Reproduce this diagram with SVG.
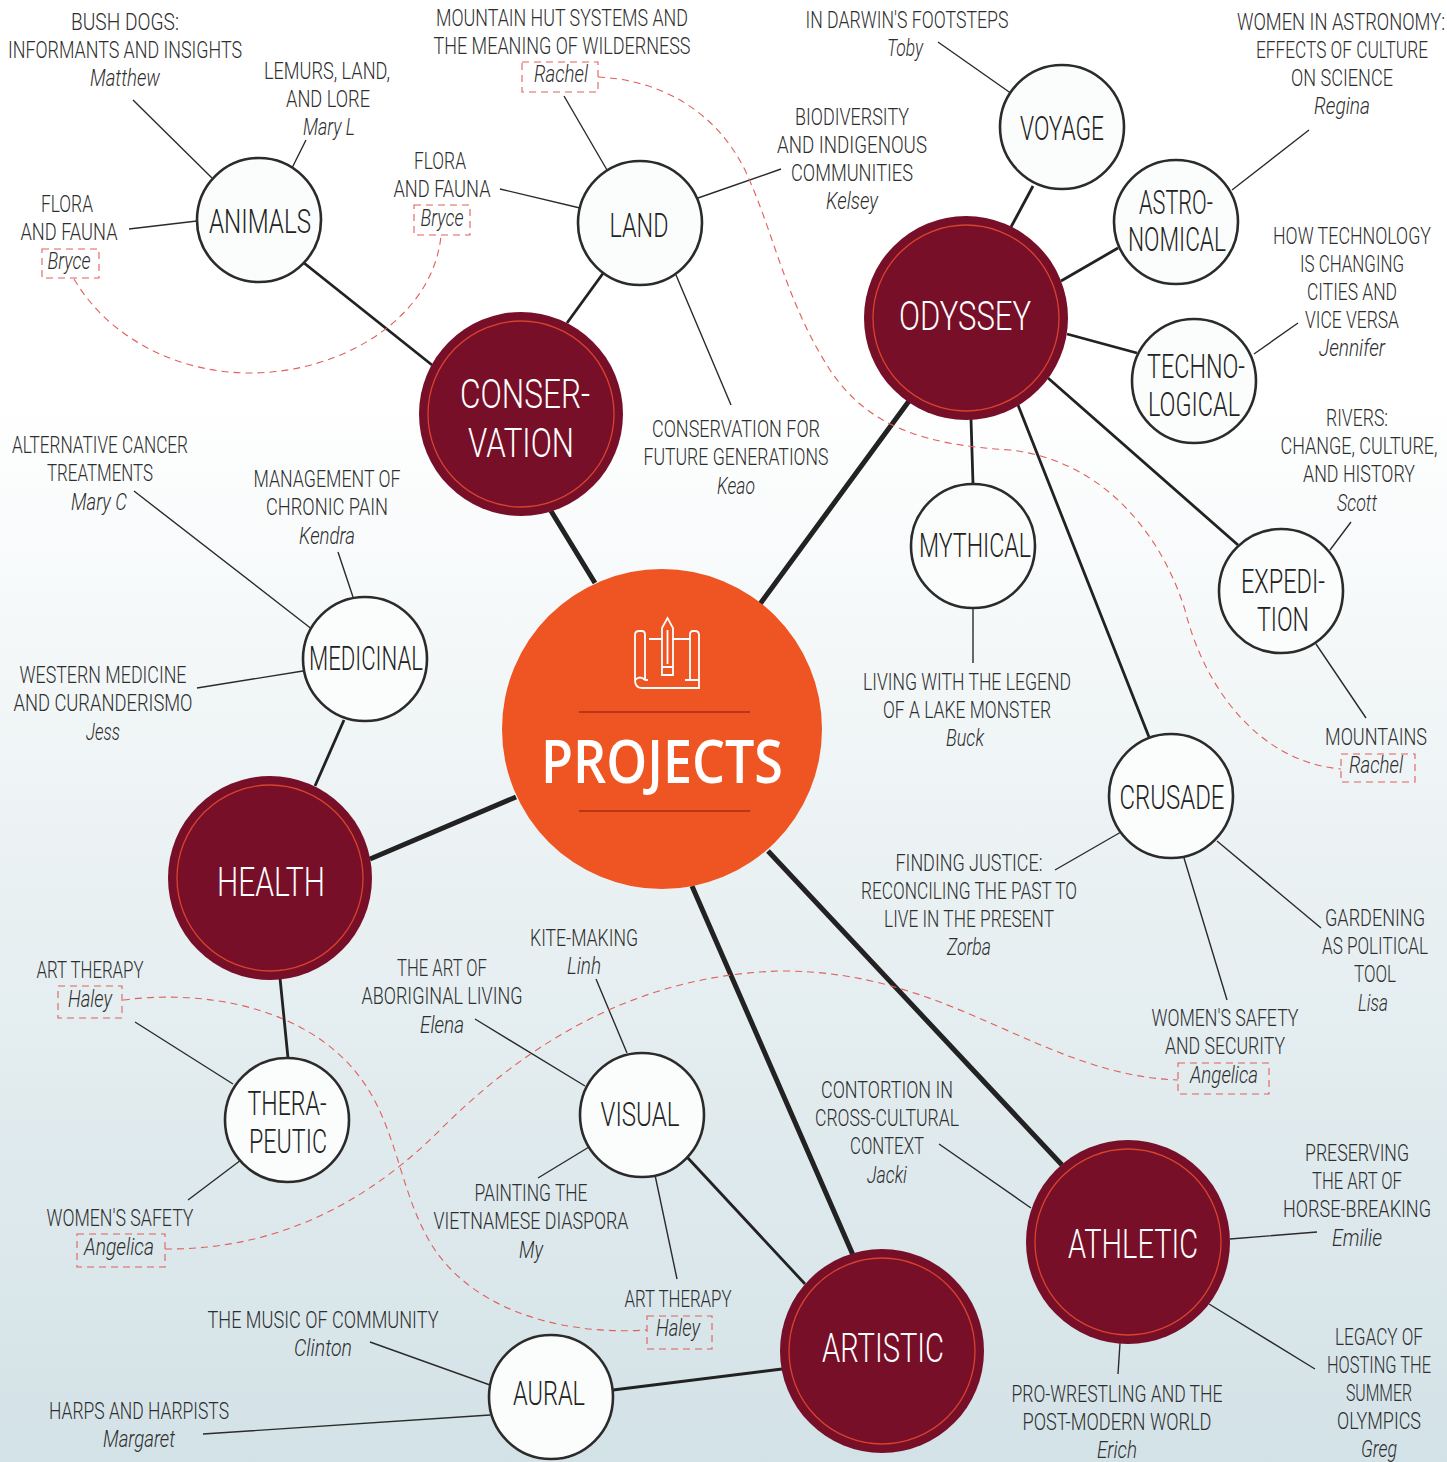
<svg xmlns="http://www.w3.org/2000/svg" width="1447" height="1462" viewBox="0 0 1447 1462">
<style>
text{font-family:"Roboto","Liberation Sans",sans-serif;text-anchor:middle;}
.l{font-size:23px;font-weight:300;fill:#2e2e2e;}
.n{font-size:23px;font-weight:300;font-style:italic;fill:#2e2e2e;}
.w{font-size:33px;font-weight:300;fill:#222;}
.m{font-size:41px;font-weight:300;fill:#fff;}
.wc{fill:#fbfcfc;stroke:#2b2b2b;stroke-width:2.6;}
.mc{fill:#780f28;}
.mr{fill:none;stroke:#d8432c;stroke-width:1.3;}
.c1{stroke:#2b2b2b;stroke-width:1.4;fill:none;}
.c2{stroke:#222;stroke-width:2.8;fill:none;}
.c3{stroke:#222;stroke-width:5;fill:none;}
.d{stroke:#e0605a;stroke-width:1.1;stroke-dasharray:7 5;fill:none;}
.i{stroke:#fff;stroke-width:1.8;fill:none;}
</style>
<defs><linearGradient id="bg" x1="0" y1="0" x2="0" y2="1"><stop offset="0" stop-color="#fff"/><stop offset="0.27" stop-color="#fff"/><stop offset="0.6" stop-color="#eaf1f3"/><stop offset="1" stop-color="#d3e2e7"/></linearGradient></defs>
<rect width="1447" height="1462" fill="url(#bg)"/>
<g id="connectors">
<path class="c3" d="M551,511L595,583M909,401L760,604M516,797L370,859M692,886L853,1255M768,851L1062,1165"/>
<path class="c2" d="M304,263L432,365M604,272L567,323M1033,186L1011,227M1118,248L1061,281M1067,334L1137,353M1048,378L1238,545M971,419L973,484M1018,405L1149,737M344,720L315,786M280,978L288,1058M687,1157L805,1284M613,1390L782,1369"/>
<path class="c1" d="M133,100L212,178M306,140L292,168M129,229L197,221M564,96L607,170M500,189L580,208M781,169L698,198M676,275L731,405M938,42L1012,94M1309,130L1232,190M1298,323L1254,354M1351,522L1330,550M1316,644L1366,718M973,608L973,663M1121,832L1055,870M1217,841L1321,928M1184,858L1227,1000M134,491L313,630M338,552L353,597M197,688L303,671M135,1022L233,1084M241,1160L188,1200M475,1019L585,1086M596,979L627,1053M589,1147L538,1178M655,1175L677,1279M939,1144L1031,1208M1230,1239L1317,1232M1209,1304L1315,1369M1120,1343L1118,1374M370,1342L490,1385M203,1434L490,1415"/>
<path class="d" d="M74,279C110,340 180,373 250,373C340,373 432,320 441,236"/>
<path class="d" d="M598,77C660,80 715,110 745,170C775,235 785,300 830,370C870,430 930,445 1010,450C1100,460 1160,530 1185,610C1205,690 1260,762 1341,769"/>
<path class="d" d="M123,1000C200,990 290,1005 345,1060C400,1115 395,1190 435,1250C480,1315 570,1335 647,1330"/>
<path class="d" d="M165,1249C280,1250 370,1200 440,1130C530,1040 640,975 780,971C950,970 1040,1075 1178,1080"/>
</g>
<g id="tags">
<rect class="d" x="522" y="62" width="76" height="30"/><rect class="d" x="414" y="205" width="56" height="30"/><rect class="d" x="42" y="249" width="57" height="29"/><rect class="d" x="1341" y="754" width="74" height="28"/><rect class="d" x="1178" y="1063" width="91" height="31"/><rect class="d" x="58" y="986" width="64" height="32"/><rect class="d" x="77" y="1234" width="88" height="33"/><rect class="d" x="647" y="1316" width="65" height="33"/>
</g>
<g id="projects">
<circle cx="662" cy="729" r="160" fill="#ef5423"/>
<path class="i" d="M635,680V635Q635,631 639,631H642Q645,631 645,635V680M635,680Q635,688 642,688H699V635Q699,631 695,631H693Q690,631 690,635V680H699M635,680Q640,675 645,680M649,639H662M673,639H690M645,680H648M685,680H690M662,675V628L667.500,618L673,628V675ZM662,667H673M667.500,630V664"/>
<path d="M579,712H750M579,811H750" stroke="#a92b17" stroke-width="1.5"/>
<text x="662" y="783" font-size="59" font-weight="600" fill="#fff" textLength="242" lengthAdjust="spacingAndGlyphs" style="font-family:'Open Sans','Liberation Sans',sans-serif">PROJECTS</text>
</g>
<g id="conservation"><circle class="mc" cx="521" cy="414" r="102"/><circle class="mr" cx="521" cy="414" r="93"/><text class="m" x="525" y="408" textLength="130" lengthAdjust="spacingAndGlyphs">CONSER-</text><text class="m" x="521" y="457" textLength="106" lengthAdjust="spacingAndGlyphs">VATION</text></g>
<g id="odyssey"><circle class="mc" cx="966" cy="318" r="102"/><circle class="mr" cx="966" cy="318" r="93"/><text class="m" x="965" y="330" textLength="132" lengthAdjust="spacingAndGlyphs">ODYSSEY</text></g>
<g id="health"><circle class="mc" cx="270" cy="878" r="102"/><circle class="mr" cx="270" cy="878" r="93"/><text class="m" x="271" y="896" textLength="108" lengthAdjust="spacingAndGlyphs">HEALTH</text></g>
<g id="artistic"><circle class="mc" cx="882" cy="1351" r="102"/><circle class="mr" cx="882" cy="1351" r="93"/><text class="m" x="883" y="1362" textLength="122" lengthAdjust="spacingAndGlyphs">ARTISTIC</text></g>
<g id="athletic"><circle class="mc" cx="1128" cy="1242" r="102"/><circle class="mr" cx="1128" cy="1242" r="93"/><text class="m" x="1133" y="1258" textLength="130" lengthAdjust="spacingAndGlyphs">ATHLETIC</text></g>
<g id="animals"><circle class="wc" cx="259" cy="220" r="62"/><text class="w" x="260" y="233" textLength="102" lengthAdjust="spacingAndGlyphs">ANIMALS</text></g>
<g id="land"><circle class="wc" cx="640" cy="223" r="62"/><text class="w" x="639" y="237" textLength="59" lengthAdjust="spacingAndGlyphs">LAND</text></g>
<g id="voyage"><circle class="wc" cx="1062" cy="127" r="62"/><text class="w" x="1062" y="140" textLength="84" lengthAdjust="spacingAndGlyphs">VOYAGE</text></g>
<g id="astronomical"><circle class="wc" cx="1176" cy="222" r="62"/><text class="w" x="1176" y="214" textLength="74" lengthAdjust="spacingAndGlyphs">ASTRO-</text><text class="w" x="1177" y="251" textLength="98" lengthAdjust="spacingAndGlyphs">NOMICAL</text></g>
<g id="technological"><circle class="wc" cx="1194" cy="381" r="62"/><text class="w" x="1196" y="378" textLength="98" lengthAdjust="spacingAndGlyphs">TECHNO-</text><text class="w" x="1194" y="416" textLength="92" lengthAdjust="spacingAndGlyphs">LOGICAL</text></g>
<g id="mythical"><circle class="wc" cx="973" cy="546" r="62"/><text class="w" x="975" y="557" textLength="112" lengthAdjust="spacingAndGlyphs">MYTHICAL</text></g>
<g id="expedition"><circle class="wc" cx="1281" cy="591" r="62"/><text class="w" x="1283" y="593" textLength="84" lengthAdjust="spacingAndGlyphs">EXPEDI-</text><text class="w" x="1283" y="631" textLength="52" lengthAdjust="spacingAndGlyphs">TION</text></g>
<g id="crusade"><circle class="wc" cx="1171" cy="796" r="62"/><text class="w" x="1172" y="809" textLength="105" lengthAdjust="spacingAndGlyphs">CRUSADE</text></g>
<g id="medicinal"><circle class="wc" cx="365" cy="659" r="62"/><text class="w" x="366" y="670" textLength="114" lengthAdjust="spacingAndGlyphs">MEDICINAL</text></g>
<g id="therapeutic"><circle class="wc" cx="287" cy="1120" r="62"/><text class="w" x="287" y="1115" textLength="79" lengthAdjust="spacingAndGlyphs">THERA-</text><text class="w" x="288" y="1153" textLength="78" lengthAdjust="spacingAndGlyphs">PEUTIC</text></g>
<g id="visual"><circle class="wc" cx="642" cy="1115" r="62"/><text class="w" x="640" y="1126" textLength="79" lengthAdjust="spacingAndGlyphs">VISUAL</text></g>
<g id="aural"><circle class="wc" cx="551" cy="1397" r="62"/><text class="w" x="549" y="1405" textLength="72" lengthAdjust="spacingAndGlyphs">AURAL</text></g>
<g id="labels" transform="translate(0,0.3)">
<text class="l" x="125" y="30" textLength="108" lengthAdjust="spacingAndGlyphs">BUSH DOGS:</text>
<text class="l" transform="translate(125,58) scale(.8,1)" textLength="292.500" lengthAdjust="spacingAndGlyphs">INFORMANTS AND INSIGHTS</text>
<text class="n" x="125" y="86" textLength="70" lengthAdjust="spacingAndGlyphs">Matthew</text>
<text class="l" x="327" y="79" textLength="126" lengthAdjust="spacingAndGlyphs">LEMURS, LAND,</text>
<text class="l" x="328" y="107" textLength="84" lengthAdjust="spacingAndGlyphs">AND LORE</text>
<text class="n" x="329" y="135" textLength="52" lengthAdjust="spacingAndGlyphs">Mary L</text>
<text class="l" x="562" y="26" textLength="252" lengthAdjust="spacingAndGlyphs">MOUNTAIN HUT SYSTEMS AND</text>
<text class="l" x="562" y="54" textLength="257" lengthAdjust="spacingAndGlyphs">THE MEANING OF WILDERNESS</text>
<text class="n" x="561" y="82" textLength="54" lengthAdjust="spacingAndGlyphs">Rachel</text>
<text class="l" x="907" y="28" textLength="203" lengthAdjust="spacingAndGlyphs">IN DARWIN'S FOOTSTEPS</text>
<text class="n" x="905" y="56" textLength="36" lengthAdjust="spacingAndGlyphs">Toby</text>
<text class="l" transform="translate(1341,30) scale(.8,1)" textLength="260" lengthAdjust="spacingAndGlyphs">WOMEN IN ASTRONOMY:</text>
<text class="l" transform="translate(1342,58) scale(.8,1)" textLength="215" lengthAdjust="spacingAndGlyphs">EFFECTS OF CULTURE</text>
<text class="l" x="1342" y="86" textLength="102" lengthAdjust="spacingAndGlyphs">ON SCIENCE</text>
<text class="n" x="1342" y="114" textLength="56" lengthAdjust="spacingAndGlyphs">Regina</text>
<text class="l" x="852" y="125" textLength="114" lengthAdjust="spacingAndGlyphs">BIODIVERSITY</text>
<text class="l" x="852" y="153" textLength="150" lengthAdjust="spacingAndGlyphs">AND INDIGENOUS</text>
<text class="l" x="852" y="181" textLength="122" lengthAdjust="spacingAndGlyphs">COMMUNITIES</text>
<text class="n" x="852" y="209" textLength="52" lengthAdjust="spacingAndGlyphs">Kelsey</text>
<text class="l" x="440" y="169" textLength="52" lengthAdjust="spacingAndGlyphs">FLORA</text>
<text class="l" x="442" y="197" textLength="97" lengthAdjust="spacingAndGlyphs">AND FAUNA</text>
<text class="n" x="442" y="226" textLength="43" lengthAdjust="spacingAndGlyphs">Bryce</text>
<text class="l" x="67" y="212" textLength="52" lengthAdjust="spacingAndGlyphs">FLORA</text>
<text class="l" x="69" y="240" textLength="97" lengthAdjust="spacingAndGlyphs">AND FAUNA</text>
<text class="n" x="69" y="269" textLength="43" lengthAdjust="spacingAndGlyphs">Bryce</text>
<text class="l" transform="translate(1352,244) scale(.8,1)" textLength="197.500" lengthAdjust="spacingAndGlyphs">HOW TECHNOLOGY</text>
<text class="l" x="1352" y="272" textLength="104" lengthAdjust="spacingAndGlyphs">IS CHANGING</text>
<text class="l" x="1352" y="300" textLength="90" lengthAdjust="spacingAndGlyphs">CITIES AND</text>
<text class="l" x="1352" y="328" textLength="94" lengthAdjust="spacingAndGlyphs">VICE VERSA</text>
<text class="n" x="1352" y="356" textLength="66" lengthAdjust="spacingAndGlyphs">Jennifer</text>
<text class="l" x="1357" y="426" textLength="62" lengthAdjust="spacingAndGlyphs">RIVERS:</text>
<text class="l" transform="translate(1359,454) scale(.8,1)" textLength="196.250" lengthAdjust="spacingAndGlyphs">CHANGE, CULTURE,</text>
<text class="l" transform="translate(1359,482) scale(.8,1)" textLength="140" lengthAdjust="spacingAndGlyphs">AND HISTORY</text>
<text class="n" x="1357" y="511" textLength="40" lengthAdjust="spacingAndGlyphs">Scott</text>
<text class="l" x="736" y="437" textLength="168" lengthAdjust="spacingAndGlyphs">CONSERVATION FOR</text>
<text class="l" x="736" y="465" textLength="185" lengthAdjust="spacingAndGlyphs">FUTURE GENERATIONS</text>
<text class="n" x="736" y="494" textLength="38" lengthAdjust="spacingAndGlyphs">Keao</text>
<text class="l" transform="translate(100,453) scale(.8,1)" textLength="220" lengthAdjust="spacingAndGlyphs">ALTERNATIVE CANCER</text>
<text class="l" x="100" y="481" textLength="106" lengthAdjust="spacingAndGlyphs">TREATMENTS</text>
<text class="n" x="99" y="510" textLength="56" lengthAdjust="spacingAndGlyphs">Mary C</text>
<text class="l" x="327" y="487" textLength="147" lengthAdjust="spacingAndGlyphs">MANAGEMENT OF</text>
<text class="l" x="327" y="515" textLength="122" lengthAdjust="spacingAndGlyphs">CHRONIC PAIN</text>
<text class="n" x="327" y="544" textLength="56" lengthAdjust="spacingAndGlyphs">Kendra</text>
<text class="l" transform="translate(103,683) scale(.8,1)" textLength="208.750" lengthAdjust="spacingAndGlyphs">WESTERN MEDICINE</text>
<text class="l" transform="translate(103,711) scale(.8,1)" textLength="223.750" lengthAdjust="spacingAndGlyphs">AND CURANDERISMO</text>
<text class="n" x="103" y="740" textLength="34" lengthAdjust="spacingAndGlyphs">Jess</text>
<text class="l" x="967" y="690" textLength="208" lengthAdjust="spacingAndGlyphs">LIVING WITH THE LEGEND</text>
<text class="l" x="967" y="718" textLength="168" lengthAdjust="spacingAndGlyphs">OF A LAKE MONSTER</text>
<text class="n" x="965" y="746" textLength="38" lengthAdjust="spacingAndGlyphs">Buck</text>
<text class="l" transform="translate(1376,745) scale(.8,1)" textLength="127.500" lengthAdjust="spacingAndGlyphs">MOUNTAINS</text>
<text class="n" x="1376" y="773" textLength="54" lengthAdjust="spacingAndGlyphs">Rachel</text>
<text class="l" x="969" y="871" textLength="147" lengthAdjust="spacingAndGlyphs">FINDING JUSTICE:</text>
<text class="l" x="969" y="899" textLength="216" lengthAdjust="spacingAndGlyphs">RECONCILING THE PAST TO</text>
<text class="l" x="969" y="927" textLength="170" lengthAdjust="spacingAndGlyphs">LIVE IN THE PRESENT</text>
<text class="n" x="969" y="955" textLength="44" lengthAdjust="spacingAndGlyphs">Zorba</text>
<text class="l" transform="translate(1375,926) scale(.8,1)" textLength="125" lengthAdjust="spacingAndGlyphs">GARDENING</text>
<text class="l" transform="translate(1375,954) scale(.8,1)" textLength="132.500" lengthAdjust="spacingAndGlyphs">AS POLITICAL</text>
<text class="l" x="1375" y="982" textLength="42" lengthAdjust="spacingAndGlyphs">TOOL</text>
<text class="n" x="1373" y="1011" textLength="30" lengthAdjust="spacingAndGlyphs">Lisa</text>
<text class="l" x="1225" y="1026" textLength="147" lengthAdjust="spacingAndGlyphs">WOMEN'S SAFETY</text>
<text class="l" x="1225" y="1054" textLength="120" lengthAdjust="spacingAndGlyphs">AND SECURITY</text>
<text class="n" x="1224" y="1083" textLength="68" lengthAdjust="spacingAndGlyphs">Angelica</text>
<text class="l" x="584" y="946" textLength="108" lengthAdjust="spacingAndGlyphs">KITE-MAKING</text>
<text class="n" x="584" y="974" textLength="34" lengthAdjust="spacingAndGlyphs">Linh</text>
<text class="l" x="442" y="976" textLength="90" lengthAdjust="spacingAndGlyphs">THE ART OF</text>
<text class="l" x="442" y="1004" textLength="161" lengthAdjust="spacingAndGlyphs">ABORIGINAL LIVING</text>
<text class="n" x="442" y="1033" textLength="44" lengthAdjust="spacingAndGlyphs">Elena</text>
<text class="l" x="90" y="978" textLength="107" lengthAdjust="spacingAndGlyphs">ART THERAPY</text>
<text class="n" x="90" y="1007" textLength="44" lengthAdjust="spacingAndGlyphs">Haley</text>
<text class="l" x="887" y="1098" textLength="132" lengthAdjust="spacingAndGlyphs">CONTORTION IN</text>
<text class="l" x="887" y="1126" textLength="144" lengthAdjust="spacingAndGlyphs">CROSS-CULTURAL</text>
<text class="l" x="887" y="1154" textLength="74" lengthAdjust="spacingAndGlyphs">CONTEXT</text>
<text class="n" x="887" y="1183" textLength="40" lengthAdjust="spacingAndGlyphs">Jacki</text>
<text class="l" transform="translate(1357,1161) scale(.8,1)" textLength="130" lengthAdjust="spacingAndGlyphs">PRESERVING</text>
<text class="l" x="1357" y="1189" textLength="90" lengthAdjust="spacingAndGlyphs">THE ART OF</text>
<text class="l" transform="translate(1357,1217) scale(.8,1)" textLength="185" lengthAdjust="spacingAndGlyphs">HORSE-BREAKING</text>
<text class="n" x="1357" y="1246" textLength="50" lengthAdjust="spacingAndGlyphs">Emilie</text>
<text class="l" x="120" y="1226" textLength="147" lengthAdjust="spacingAndGlyphs">WOMEN'S SAFETY</text>
<text class="n" x="119" y="1255" textLength="70" lengthAdjust="spacingAndGlyphs">Angelica</text>
<text class="l" x="531" y="1201" textLength="113" lengthAdjust="spacingAndGlyphs">PAINTING THE</text>
<text class="l" x="531" y="1229" textLength="195" lengthAdjust="spacingAndGlyphs">VIETNAMESE DIASPORA</text>
<text class="n" x="531" y="1258" textLength="24" lengthAdjust="spacingAndGlyphs">My</text>
<text class="l" x="678" y="1307" textLength="107" lengthAdjust="spacingAndGlyphs">ART THERAPY</text>
<text class="n" x="678" y="1336" textLength="44" lengthAdjust="spacingAndGlyphs">Haley</text>
<text class="l" x="323" y="1328" textLength="231" lengthAdjust="spacingAndGlyphs">THE MUSIC OF COMMUNITY</text>
<text class="n" x="323" y="1356" textLength="58" lengthAdjust="spacingAndGlyphs">Clinton</text>
<text class="l" x="139" y="1419" textLength="180" lengthAdjust="spacingAndGlyphs">HARPS AND HARPISTS</text>
<text class="n" x="139" y="1447" textLength="72" lengthAdjust="spacingAndGlyphs">Margaret</text>
<text class="l" x="1117" y="1402" textLength="211" lengthAdjust="spacingAndGlyphs">PRO-WRESTLING AND THE</text>
<text class="l" x="1117" y="1430" textLength="189" lengthAdjust="spacingAndGlyphs">POST-MODERN WORLD</text>
<text class="n" x="1117" y="1458" textLength="40" lengthAdjust="spacingAndGlyphs">Erich</text>
<text class="l" transform="translate(1379,1345) scale(.8,1)" textLength="110" lengthAdjust="spacingAndGlyphs">LEGACY OF</text>
<text class="l" transform="translate(1379,1373) scale(.8,1)" textLength="130" lengthAdjust="spacingAndGlyphs">HOSTING THE</text>
<text class="l" x="1379" y="1401" textLength="66" lengthAdjust="spacingAndGlyphs">SUMMER</text>
<text class="l" transform="translate(1379,1429) scale(.8,1)" textLength="105" lengthAdjust="spacingAndGlyphs">OLYMPICS</text>
<text class="n" x="1379" y="1457" textLength="36" lengthAdjust="spacingAndGlyphs">Greg</text>
</g>
</svg>
